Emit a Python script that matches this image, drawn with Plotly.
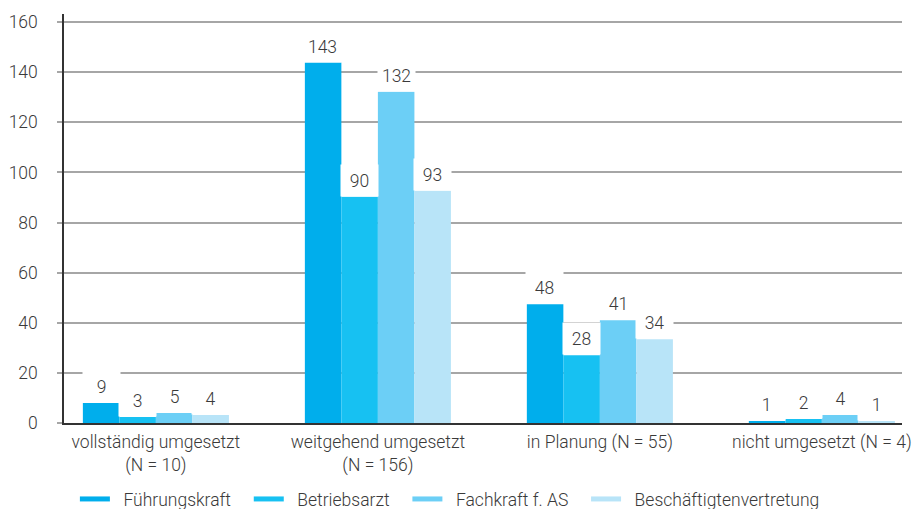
import plotly.graph_objects as go

categories = ["vollständig umgesetzt<br>(N = 10)", "weitgehend umgesetzt<br>(N = 156)",
              "in Planung (N = 55)", "nicht umgesetzt (N = 4)"]
series_names = ["Führungskraft", "Betriebsarzt", "Fachkraft f. AS", "Beschäftigtenvertretung"]
colors = ["#00AEEC", "#17C1F2", "#6CCFF6", "#B8E4F8"]

# bar heights as drawn
fuehrungskraft = [8.0, 143.8, 47.4, 0.7]
betriebsarzt = [2.4, 90.3, 27.0, 1.6]
fachkraft = [4.0, 132.2, 41.0, 3.2]
beschaeftigte = [3.2, 92.7, 33.4, 0.8]
# printed labels
lab_fuehrungskraft = ["9", "143", "48", "1"]
lab_betriebsarzt = ["3", "90", "28", "2"]
lab_fachkraft = ["5", "132", "41", "4"]
lab_beschaeftigte = ["4", "93", "34", "1"]

values = [fuehrungskraft, betriebsarzt, fachkraft, beschaeftigte]
labels = [lab_fuehrungskraft, lab_betriebsarzt, lab_fachkraft, lab_beschaeftigte]

FONT = "Roboto"
TXT = "#3a3a3a"
FS = 17.5

fig = go.Figure()
for name, vals, col in zip(series_names, values, colors):
    fig.add_trace(go.Bar(x=categories, y=vals, name=name, marker=dict(color=col, line=dict(width=0)),
                         showlegend=False, hoverinfo="skip"))
lead = "\u00a0" * 2
pad = "\u00a0" * 3
for name, col in zip(series_names, colors):
    fig.add_trace(go.Scatter(x=[None], y=[None], mode="lines", name=lead + name + pad,
                             line=dict(color=col, width=5), showlegend=True))

bar_px = 36.6
for j, (vals, labs) in enumerate(zip(values, labels)):
    for c, v, t in zip(categories, vals, labs):
        fig.add_annotation(x=c, y=v, xref="x", yref="y", text=t, showarrow=False,
                           xshift=(j - 1.5) * bar_px, yanchor="bottom", xanchor="center",
                           width=35, height=29, borderpad=1, bgcolor="white",
                           font=dict(family=FONT, size=FS, color=TXT, weight=300))

fig.update_layout(
    width=914, height=509,
    margin=dict(l=64, r=12, t=14, b=86, autoexpand=False),
    paper_bgcolor="white", plot_bgcolor="white",
    barmode="group", bargap=0.342, bargroupgap=0,
    font=dict(family=FONT, size=FS, color=TXT, weight=300),
    legend=dict(orientation="h", x=0.013, xanchor="left", y=-0.186, yanchor="middle",
                font=dict(family=FONT, size=FS, color=TXT, weight=300),
                bgcolor="rgba(0,0,0,0)"),
    xaxis=dict(range=[-0.414, 3.361], showgrid=False, showline=True, linecolor="#333333",
               linewidth=1.5, ticks="", tickfont=dict(size=FS), ticklabelstandoff=2),
    yaxis=dict(range=[0, 163.2], tickvals=[0, 20, 40, 60, 80, 100, 120, 140, 160],
               showgrid=True, gridcolor="#a6a6a6", gridwidth=1.5, zeroline=False,
               showline=True, linecolor="#333333", linewidth=1.5,
               ticks="outside", ticklen=5, tickcolor="#a6a6a6", tickwidth=1.5,
               ticklabelstandoff=16, tickfont=dict(size=FS)),
)

fig.write_html("out.html")
